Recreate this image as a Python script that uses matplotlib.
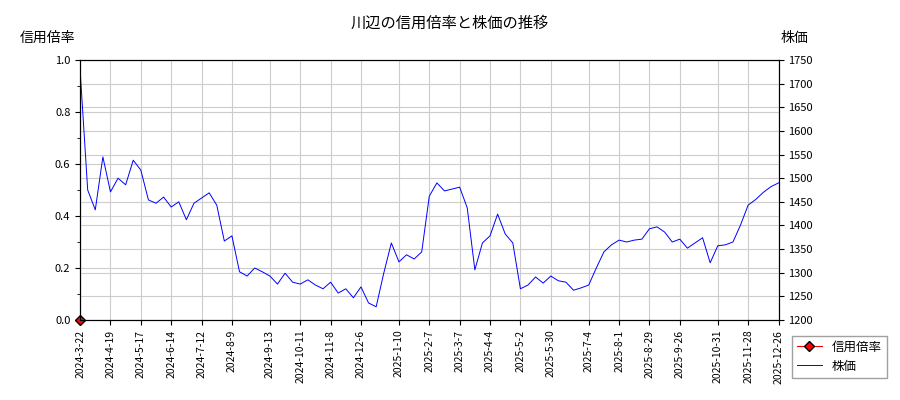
import matplotlib
matplotlib.use("Agg")
import matplotlib.pyplot as plt
import pandas as pd
import numpy as np

plt.rcParams['font.family'] = ['Noto Sans CJK JP', 'DejaVu Sans']

prices = [1729,1475,1433,1545,1471,1500,1486,1538,1517,1454,1447,1460,1439,1450,1412,1447,1458,1469,1443,1367,
          1378,1302,1293,1310,1302,1293,1276,1299,1280,1276,1285,1274,1266,1280,1257,1266,1247,1270,1236,1228,
          1299,1363,1323,1338,1329,1344,1462,1490,1473,1477,1481,1437,1306,1363,1378,1424,1382,1363,1266,1274,
          1291,1278,1293,1283,1280,1263,1268,1274,1310,1344,1359,1369,1365,1369,1371,1393,1397,1386,1365,1371,
          1352,1363,1374,1321,1357,1359,1365,1401,1443,1455,1470,1482,1490]
start = pd.Timestamp('2024-03-22')
dates = [start + pd.Timedelta(days=7*i) for i in range(len(prices))]
ratio_dates = [start]
ratio_vals = [0.0]
tick_labels = ['2024-3-22','2024-4-19','2024-5-17','2024-6-14','2024-7-12','2024-8-9','2024-9-13',
               '2024-10-11','2024-11-8','2024-12-6','2025-1-10','2025-2-7','2025-3-7','2025-4-4',
               '2025-5-2','2025-5-30','2025-7-4','2025-8-1','2025-8-29','2025-9-26','2025-10-31',
               '2025-11-28','2025-12-26']
ticks = [pd.Timestamp(t) for t in tick_labels]

fig = plt.figure(figsize=(9,4), dpi=100)
ax = fig.add_axes([0.089, 0.2, 0.776, 0.65])
ax2 = ax.twinx()
l2, = ax2.plot(dates, prices, color='blue', lw=0.7, label='株価')
l1, = ax.plot(ratio_dates, ratio_vals, marker='D', color='red', markeredgecolor='black', ms=5, lw=0.8, label='信用倍率', zorder=5, clip_on=False)
ax.set_ylim(0,1)
ax2.set_ylim(1200,1750)
ax.set_xlim(dates[0], pd.Timestamp('2025-12-26'))
ax.set_xticks(ticks)
ax.set_xticklabels(tick_labels, rotation=90, fontsize=7.5)
ax.set_yticks(np.arange(0,1.01,0.2))
ax.set_yticklabels([f"{v:.1f}" for v in np.arange(0,1.01,0.2)], fontsize=8)
ax.yaxis.set_minor_locator(matplotlib.ticker.MultipleLocator(0.1))
ax2.set_yticks(range(1200,1751,50))
ax2.tick_params(labelsize=8)
ax.grid(True, color='#cccccc', lw=0.8)
ax2.set_xlim(ax.get_xlim())
ax2.grid(True, axis='y', color='#cccccc', lw=0.8)
ax.set_axisbelow(True)
fig.text(0.5, 0.93, '川辺の信用倍率と株価の推移', ha='center', fontsize=11)
fig.text(0.022, 0.895, '信用倍率', fontsize=10)
fig.text(0.867, 0.895, '株価', fontsize=10)
fig.legend([l1,l2], ['信用倍率','株価'], loc='lower right', bbox_to_anchor=(0.992, 0.04), fontsize=9, fancybox=False, edgecolor='#888888')
fig.savefig('out.png')
